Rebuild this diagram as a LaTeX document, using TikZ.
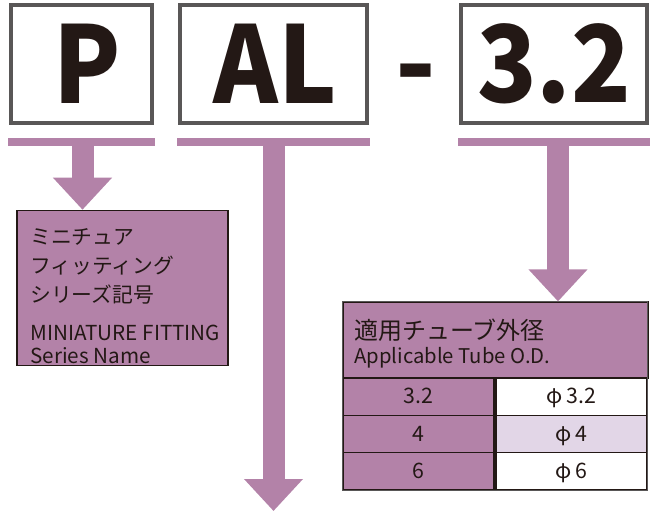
\documentclass[tikz,border=0pt]{standalone}
\usepackage{fontspec}
\setmainfont{Noto Sans CJK JP}
\newfontfamily\bigfont{Noto Sans CJK JP}[FakeStretch=0.92]
\usetikzlibrary{arrows.meta,calc}
\definecolor{pcol}{HTML}{B382A8}
\definecolor{plight}{HTML}{E2D6E7}
\definecolor{ink}{HTML}{231815}
\definecolor{frame}{HTML}{595757}
\tikzstyle{codebox}=[
    draw=frame, line width=2.6pt,
    minimum height=88.5pt,
    inner sep=0pt,
]
\tikzstyle{bigtext}=[
    inner sep=0pt, text=ink,
    font=\bigfont\bfseries\fontsize{80}{80}\selectfont,
]
\tikzstyle{bigarrow}=[
    draw=pcol, line width=16.5pt,
    -{Triangle[length=24pt,width=42.75pt]},
]
\tikzstyle{jtext}=[inner sep=0pt, text=ink, font=\fontsize{15.6}{15.6}\selectfont]
\tikzstyle{etext}=[inner sep=0pt, text=ink, font=\fontsize{15.5}{15.5}\selectfont]
\tikzstyle{cell}=[
    draw=ink, line width=0.9pt,
    minimum width=113.25pt, minimum height=28pt,
    inner sep=0pt, text height=10.5pt, text depth=0pt,
    text=ink, font=\fontsize{16}{16}\selectfont,
]

\begin{document}
\begin{tikzpicture}[x=0.75pt,y=-0.75pt]
    \useasboundingbox (0,0) rectangle (650,511);
    \clip (0,0) rectangle (650,511);
    % code boxes
    \node (P) at (81.5,64) [codebox, minimum width=105.75pt] {};
    \node (AL) at (273.5,64) [codebox, minimum width=140.25pt] {};
    \node (D) at (554,64) [codebox, minimum width=139.5pt] {};
    \node (Pt) at (87.5,64) [bigtext] {P};
    \node (ALt) at (275,64) [bigtext] {AL};
    \node (Dt) at (554,64) [bigtext] {3.2};
    \node (dash) at (416,101) [anchor=base, inner sep=0pt, text=ink, font=\bfseries\fontsize{80}{80}\selectfont] {-};
    % bars under the boxes
    \fill[pcol] ($(P.south west)+(-1.5,13)$) rectangle ($(P.south east)+(1.5,21)$);
    \fill[pcol] ($(AL.south west)+(-1.5,13)$) rectangle ($(AL.south east)+(1.5,21)$);
    \fill[pcol] ($(D.south west)+(-1.5,13)$) rectangle ($(D.south east)+(1.5,21)$);
    % series name
    \node (series) at (122.5,288) [draw=ink, line width=0.8pt, fill=pcol,
        minimum width=158.25pt, minimum height=116.6pt] {};
    \node (sj1) at (30,244.6) [anchor=base west, jtext] {ミニチュア};
    \node (sj2) at (30,273.6) [anchor=base west, jtext] {フィッティング};
    \node (sj3) at (30,302.6) [anchor=base west, jtext] {シリーズ記号};
    \node (se1) at (30,340.7) [anchor=base west, etext] {MINIATURE FITTING};
    \node (se2) at (30,363.3) [anchor=base west, etext] {Series Name};
    % tube table
    \node (tube) at (495.5,340) [draw=ink, line width=0.9pt, fill=pcol,
        minimum width=228.75pt, minimum height=57pt] {};
    \node (tj) at (354,339) [anchor=base west, inner sep=0pt, text=ink,
        font=\fontsize{18}{18}\selectfont] {適用チューブ外径};
    \node (te) at (354,363) [anchor=base west, inner sep=0pt, text=ink,
        font=\fontsize{15.2}{15.2}\selectfont] {Applicable Tube O.D.};
    \node (r1l) at (418.5,396.7) [cell, fill=pcol] {3.2};
    \node (r1r) at (571.5,396.7) [cell, fill=white] {φ\,3.2};
    \node (r2l) at (418.5,434) [cell, fill=pcol] {4};
    \node (r2r) at (571.5,434) [cell, fill=plight] {φ\,4};
    \node (r3l) at (418.5,471.3) [cell, fill=pcol] {6};
    \node (r3r) at (571.5,471.3) [cell, fill=white] {φ\,6};
    \draw[frame, line width=1.2pt] (tube.north west) rectangle (r3r.south east);
    % arrows
    \coordinate (pa) at ($(P.south)+(1,0)$);
    \coordinate (da) at ($(D.south)+(4,0)$);
    \coordinate (alend) at (273.5,511);
    \draw[bigarrow] ($(pa)+(0,15)$) -- (pa |- series.north);
    \draw[bigarrow] ($(AL.south)+(0,15)$) -- (alend);
    \draw[bigarrow] ($(da)+(0,15)$) -- (da |- tube.north);
\end{tikzpicture}
\end{document}
